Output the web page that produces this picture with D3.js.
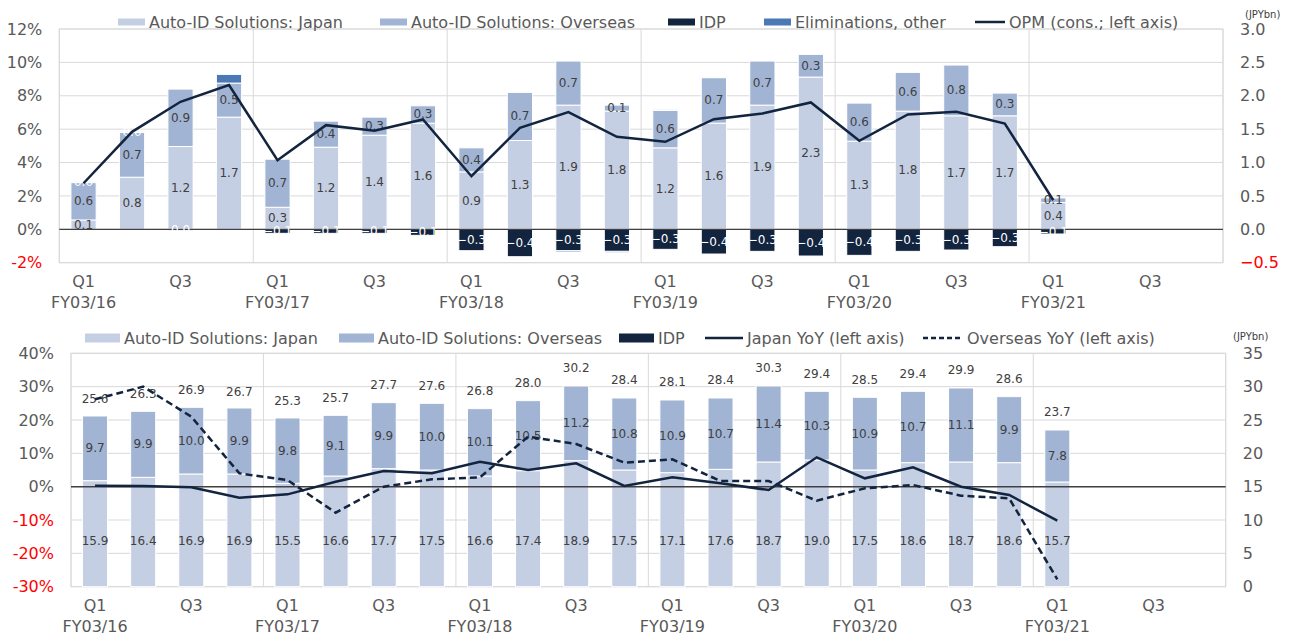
<!DOCTYPE html>
<html>
<head>
<meta charset="utf-8">
<script src="https://cdn.jsdelivr.net/npm/d3@7"></script>
<style>
  body { margin: 0; background: #fff; }
  svg { display: block; font-family: 'DejaVu Sans', Verdana, sans-serif; }
</style>
</head>
<body>
<svg id="chart" width="1300" height="641"></svg>
<script>
// ---- categories (24 quarter slots, data runs through FY03/21 Q1)
const fiscalYears = ['FY03/16', 'FY03/17', 'FY03/18', 'FY03/19', 'FY03/20', 'FY03/21'];
const quarterNames = ['Q1', 'Q2', 'Q3', 'Q4'];

// ---- top panel: operating profit by segment (JPYbn, right axis) + OPM (%, left axis)
const opJapan    = [0.14, 0.78, 1.24, 1.68, 0.33, 1.23, 1.41, 1.59, 0.86, 1.33, 1.86, 1.77, 1.22, 1.59, 1.86, 2.28, 1.32, 1.77, 1.70, 1.70, 0.40];
const opOverseas = [0.56, 0.67, 0.86, 0.51, 0.72, 0.39, 0.27, 0.26, 0.36, 0.72, 0.66, 0.09, 0.56, 0.68, 0.66, 0.34, 0.57, 0.58, 0.76, 0.34, 0.07];
const opIdp      = [0, 0, 0, 0, -0.06, -0.06, -0.06, -0.09, -0.32, -0.41, -0.32, -0.33, -0.30, -0.37, -0.33, -0.40, -0.39, -0.33, -0.31, -0.26, -0.07];
const opElim     = [0.01, 0.01, -0.02, 0.13, 0, 0, 0, 0, 0, 0, -0.02, -0.02, 0.01, 0, 0, 0, 0, 0, 0, 0, 0];
const opm        = [2.76, 5.84, 7.64, 8.64, 4.14, 6.24, 5.90, 6.58, 3.18, 6.08, 7.02, 5.54, 5.24, 6.60, 6.94, 7.60, 5.30, 6.88, 7.04, 6.34, 1.74];
const opmTicks   = [-2, 0, 2, 4, 6, 8, 10, 12];
const opTicks    = [-0.5, 0, 0.5, 1.0, 1.5, 2.0, 2.5, 3.0];

// ---- bottom panel: sales by segment (JPYbn, right axis) + YoY growth (%, left axis)
const salesJapan    = [15.9, 16.4, 16.9, 16.9, 15.5, 16.6, 17.7, 17.5, 16.6, 17.4, 18.9, 17.5, 17.1, 17.6, 18.7, 19.0, 17.5, 18.6, 18.7, 18.6, 15.7];
const salesOverseas = [9.7, 9.9, 10.0, 9.9, 9.8, 9.1, 9.9, 10.0, 10.1, 10.5, 11.2, 10.8, 10.9, 10.7, 11.4, 10.3, 10.9, 10.7, 11.1, 9.9, 7.8];
const salesTotal    = [25.6, 26.3, 26.9, 26.7, 25.3, 25.7, 27.7, 27.6, 26.8, 28.0, 30.2, 28.4, 28.1, 28.4, 30.3, 29.4, 28.5, 29.4, 29.9, 28.6, 23.7];
const japanYoY      = [0.3, 0.2, -0.2, -3.3, -2.3, 1.5, 4.7, 4.0, 7.5, 5.0, 7.0, 0.2, 2.8, 1.0, -1.0, 8.8, 2.5, 5.8, 0.0, -2.5, -10.2];
const overseasYoY   = [26.2, 30.0, 21.0, 4.0, 2.0, -7.8, 0.0, 2.2, 2.8, 15.0, 12.8, 7.2, 8.2, 1.7, 1.7, -4.2, -0.5, 0.5, -2.7, -3.5, -27.8];
const yoyTicks      = [-30, -20, -10, 0, 10, 20, 30, 40];
const salesTicks    = [0, 5, 10, 15, 20, 25, 30, 35];

const COLORS = {
  japan: '#c5cfe3',
  overseas: '#a2b4d4',
  idp: '#13243f',
  elim: '#4a79b5',
  line: '#13243f',
  text: '#595959',
  label: '#404040',
  grid: '#d9d9d9',
  zero: '#404040',
  neg: '#ff0000'
};

const periods = fiscalYears.flatMap(fy => quarterNames.map(q => ({ fy, q, key: fy + ' ' + q })));
const svg = d3.select('#chart');

// shared frame: gridlines, border, year separators, both y axes, x labels
function drawFrame(p, yL, yR, leftTicks, rightTicks, leftFmt, rightFmt) {
  const g = svg.append('g');
  const x = d3.scaleBand()
    .domain(periods.map(d => d.key))
    .range([p.x0, p.x1])
    .paddingInner(0.48)
    .paddingOuter(0.24);

  g.selectAll('.grid')
    .data(leftTicks)
    .enter()
    .append('line')
    .attr('x1', p.x0).attr('x2', p.x1)
    .attr('y1', d => yL(d)).attr('y2', d => yL(d))
    .attr('stroke', COLORS.grid);

  const step = x.step();
  g.selectAll('.sep')
    .data(d3.range(0, periods.length + 1, 4))
    .enter()
    .append('line')
    .attr('x1', i => p.x0 + i * step).attr('x2', i => p.x0 + i * step)
    .attr('y1', p.y0).attr('y2', p.y1)
    .attr('stroke', COLORS.grid);

  g.append('rect')
    .attr('x', p.x0).attr('y', p.y0)
    .attr('width', p.x1 - p.x0).attr('height', p.y1 - p.y0)
    .attr('fill', 'none').attr('stroke', COLORS.grid);

  // left axis
  const left = g.append('g')
    .attr('transform', `translate(${p.x0},0)`)
    .call(d3.axisLeft(yL).tickValues(leftTicks).tickSize(0).tickPadding(17).tickFormat(leftFmt));
  left.select('.domain').remove();
  left.selectAll('text')
    .style('font-size', '16px')
    .style('font-family', "'DejaVu Sans', Verdana, sans-serif")
    .attr('fill', d => d < 0 ? COLORS.neg : COLORS.text);

  // right axis
  const right = g.append('g')
    .attr('transform', `translate(${p.x1},0)`)
    .call(d3.axisRight(yR).tickValues(rightTicks).tickSize(0).tickPadding(17).tickFormat(rightFmt));
  right.select('.domain').remove();
  right.selectAll('text')
    .style('font-size', '16px')
    .style('font-family', "'DejaVu Sans', Verdana, sans-serif")
    .attr('fill', d => d < 0 ? COLORS.neg : COLORS.text);

  g.append('text')
    .attr('x', p.unitX).attr('y', p.unitY)
    .attr('dominant-baseline', 'central')
    .style('font-size', '10px')
    .attr('fill', COLORS.label)
    .text('(JPYbn)');

  // x labels: Q1 / Q3, fiscal year under Q1
  const labelled = periods.filter(d => d.q === 'Q1' || d.q === 'Q3');
  g.selectAll('.qlab')
    .data(labelled)
    .enter()
    .append('text')
    .attr('x', d => x(d.key) + x.bandwidth() / 2)
    .attr('y', p.y1 + 19)
    .attr('text-anchor', 'middle')
    .attr('dominant-baseline', 'central')
    .style('font-size', '16px')
    .attr('fill', COLORS.text)
    .text(d => d.q);
  g.selectAll('.fylab')
    .data(periods.filter(d => d.q === 'Q1'))
    .enter()
    .append('text')
    .attr('x', d => x(d.key) + x.bandwidth() / 2)
    .attr('y', p.y1 + 40)
    .attr('text-anchor', 'middle')
    .attr('dominant-baseline', 'central')
    .style('font-size', '16px')
    .attr('fill', COLORS.text)
    .text(d => d.fy);

  return { g, x };
}

function drawLegend(items, y, swH) {
  const lg = svg.append('g');
  items.forEach(it => {
    if (it.type === 'rect') {
      lg.append('rect')
        .attr('x', it.x).attr('y', y - swH / 2)
        .attr('width', it.w).attr('height', swH)
        .attr('fill', it.color);
    } else {
      lg.append('line')
        .attr('x1', it.x).attr('x2', it.x + it.w)
        .attr('y1', y).attr('y2', y)
        .attr('stroke', it.color).attr('stroke-width', 2.5)
        .attr('stroke-dasharray', it.dash || null);
    }
    lg.append('text')
      .attr('x', it.x + it.w + 4).attr('y', y)
      .attr('dominant-baseline', 'central')
      .style('font-size', '16px')
      .attr('fill', COLORS.text)
      .text(it.label);
  });
}

function drawLine(g, x, y, keys, values, dash) {
  const line = d3.line()
    .x((d, i) => x(keys[i]) + x.bandwidth() / 2)
    .y(d => y(d));
  g.append('path')
    .datum(values)
    .attr('d', line)
    .attr('fill', 'none')
    .attr('stroke', COLORS.line)
    .attr('stroke-width', 2.5)
    .attr('stroke-dasharray', dash || null);
}

const fmt1 = d3.format('.1f');

// ================= top panel =================
(function topPanel() {
  const p = { x0: 59.3, x1: 1223, y0: 29, y1: 262.7, unitX: 1245, unitY: 14 };
  const yL = d3.scaleLinear().domain([-2, 12]).range([p.y1, p.y0]);
  const yR = d3.scaleLinear().domain([-0.5, 3.0]).range([p.y1, p.y0]);
  const { g, x } = drawFrame(p, yL, yR, opmTicks, opTicks, d => d + '%', d3.format('.1f'));

  const rows = opJapan.map((v, i) => ({
    key: periods[i].key, japan: v, overseas: opOverseas[i], idp: opIdp[i], elim: opElim[i]
  }));
  const keys = ['japan', 'overseas', 'idp', 'elim'];
  const stacked = d3.stack().keys(keys).offset(d3.stackOffsetDiverging)(rows);

  stacked.forEach(s => {
    g.selectAll('.bar-' + s.key)
      .data(s.filter(d => d.data[s.key] !== 0))
      .enter()
      .append('rect')
      .attr('x', d => x(d.data.key))
      .attr('width', x.bandwidth())
      .attr('y', d => yR(Math.max(d[0], d[1])))
      .attr('height', d => Math.abs(yR(d[0]) - yR(d[1])))
      .attr('fill', COLORS[s.key])
      .attr('stroke', '#fff')
      .attr('stroke-width', 1);
  });

  // zero line
  g.append('line')
    .attr('x1', p.x0).attr('x2', p.x1)
    .attr('y1', yL(0)).attr('y2', yL(0))
    .attr('stroke', COLORS.zero).attr('stroke-width', 1.2);

  // data labels (eliminations only labelled in the pre-IDP quarters, where they are ~0)
  stacked.forEach(s => {
    const dark = s.key === 'idp' || s.key === 'elim';
    g.selectAll('.lab-' + s.key)
      .data(s.filter(d => {
        const v = d.data[s.key];
        if (v === 0) return false;
        return s.key !== 'elim' || (Math.abs(v) < 0.05 && d.data.idp === 0);
      }))
      .enter()
      .append('text')
      .attr('x', d => x(d.data.key) + x.bandwidth() / 2)
      .attr('y', d => yR((d[0] + d[1]) / 2))
      .attr('text-anchor', 'middle')
      .attr('dominant-baseline', 'central')
      .style('font-size', '12px')
      .attr('fill', dark ? '#fff' : COLORS.label)
      .text(d => fmt1(d.data[s.key]));
  });

  drawLine(g, x, yL, rows.map(r => r.key), opm);

  drawLegend([
    { type: 'rect', x: 118, w: 27, color: COLORS.japan, label: 'Auto-ID Solutions: Japan' },
    { type: 'rect', x: 380, w: 27, color: COLORS.overseas, label: 'Auto-ID Solutions: Overseas' },
    { type: 'rect', x: 668, w: 27, color: COLORS.idp, label: 'IDP' },
    { type: 'rect', x: 764, w: 27, color: COLORS.elim, label: 'Eliminations, other' },
    { type: 'line', x: 975, w: 30, color: COLORS.line, label: 'OPM (cons.; left axis)' }
  ], 22, 7);
})();

// ================= bottom panel =================
(function bottomPanel() {
  const p = { x0: 71, x1: 1225.7, y0: 353.3, y1: 586.7, unitX: 1233, unitY: 336 };
  const yL = d3.scaleLinear().domain([-30, 40]).range([p.y1, p.y0]);
  const yR = d3.scaleLinear().domain([0, 35]).range([p.y1, p.y0]);
  const { g, x } = drawFrame(p, yL, yR, yoyTicks, salesTicks, d => d + '%', d => d);

  const rows = salesJapan.map((v, i) => ({
    key: periods[i].key, japan: v, overseas: salesOverseas[i], total: salesTotal[i]
  }));
  const stacked = d3.stack().keys(['japan', 'overseas'])(rows);

  stacked.forEach(s => {
    g.selectAll('.bar-' + s.key)
      .data(s)
      .enter()
      .append('rect')
      .attr('x', d => x(d.data.key))
      .attr('width', x.bandwidth())
      .attr('y', d => yR(d[1]))
      .attr('height', d => yR(d[0]) - yR(d[1]))
      .attr('fill', COLORS[s.key])
      .attr('stroke', '#fff')
      .attr('stroke-width', 1);
  });

  g.append('line')
    .attr('x1', p.x0).attr('x2', p.x1)
    .attr('y1', yL(0)).attr('y2', yL(0))
    .attr('stroke', COLORS.zero).attr('stroke-width', 1.5);

  // overseas labels centred in segment
  g.selectAll('.lab-ov')
    .data(stacked[1])
    .enter()
    .append('text')
    .attr('x', d => x(d.data.key) + x.bandwidth() / 2)
    .attr('y', d => yR((d[0] + d[1]) / 2))
    .attr('text-anchor', 'middle')
    .attr('dominant-baseline', 'central')
    .style('font-size', '12px')
    .attr('fill', COLORS.label)
    .text(d => fmt1(d.data.overseas));

  // japan labels sit below the 0% line
  g.selectAll('.lab-jp')
    .data(rows)
    .enter()
    .append('text')
    .attr('x', d => x(d.key) + x.bandwidth() / 2)
    .attr('y', (p.y1 + yL(0)) / 2 + 4)
    .attr('text-anchor', 'middle')
    .attr('dominant-baseline', 'central')
    .style('font-size', '12px')
    .attr('fill', COLORS.label)
    .text(d => fmt1(d.japan));

  // totals above bars
  g.selectAll('.lab-tot')
    .data(rows)
    .enter()
    .append('text')
    .attr('x', d => x(d.key) + x.bandwidth() / 2)
    .attr('y', d => yR(d.total) - 17)
    .attr('text-anchor', 'middle')
    .attr('dominant-baseline', 'central')
    .style('font-size', '12px')
    .attr('fill', COLORS.label)
    .text(d => fmt1(d.total));

  const keys = rows.map(r => r.key);
  drawLine(g, x, yL, keys, japanYoY);
  drawLine(g, x, yL, keys, overseasYoY, '7,4');

  drawLegend([
    { type: 'rect', x: 85, w: 35, color: COLORS.japan, label: 'Auto-ID Solutions: Japan' },
    { type: 'rect', x: 339, w: 35, color: COLORS.overseas, label: 'Auto-ID Solutions: Overseas' },
    { type: 'rect', x: 619, w: 35, color: COLORS.idp, label: 'IDP' },
    { type: 'line', x: 705, w: 38, color: COLORS.line, label: 'Japan YoY (left axis)' },
    { type: 'line', x: 923, w: 40, color: COLORS.line, dash: '5,3', label: 'Overseas YoY (left axis)' }
  ], 338, 9);
})();
</script>
</body>
</html>
